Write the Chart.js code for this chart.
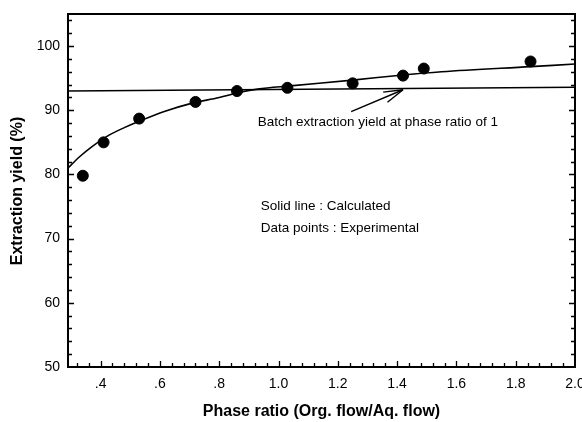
<!DOCTYPE html>
<html lang="en">
<head>
    <meta charset="UTF-8">
    <title>Extraction yield vs phase ratio</title>
    <script src="https://cdn.jsdelivr.net/npm/chart.js"></script>
    <style>
        body { margin: 0; background: #fff; }
    </style>
</head>
<body>
    <canvas id="yieldChart" width="582" height="422"></canvas>

    <script>
        // Experimental points
        const expX = [0.34, 0.41, 0.53, 0.72, 0.86, 1.03, 1.25, 1.42, 1.49, 1.85];
        const expY = [79.8, 85.0, 88.7, 91.3, 93.0, 93.5, 94.2, 95.4, 96.5, 97.6];

        // Calculated curve
        const calcX = [0.29, 0.33, 0.37, 0.42, 0.48, 0.53, 0.62, 0.70, 0.80, 0.87, 0.93, 1.04, 1.25, 1.42, 1.55, 1.85, 2.0];
        const calcY = [81.0, 82.8, 84.3, 85.9, 87.3, 88.3, 89.9, 91.0, 92.0, 92.8, 93.3, 93.8, 94.7, 95.5, 96.0, 96.8, 97.2];

        // Batch yield line and the arrow pointing at it
        const batchX = [0.29, 2.0];
        const batchY = [93.0, 93.6];
        const arrowX = [1.245, 1.42];
        const arrowY = [89.8, 93.2];

        // Tick labels
        const xTicks = [0.4, 0.6, 0.8, 1.0, 1.2, 1.4, 1.6, 1.8, 2.0];
        const xTickLabels = ['.4', '.6', '.8', '1.0', '1.2', '1.4', '1.6', '1.8', '2.0'];
        const yTicks = [50, 60, 70, 80, 90, 100];

        const toXY = (xs, ys) => xs.map((x, i) => ({ x: x, y: ys[i] }));
        const FONT = '"Liberation Sans", Arial, sans-serif';

        // frame, inward ticks, arrow head and notes
        const decor = {
            id: 'decor',
            afterDatasetsDraw(chart) {
                const { ctx, chartArea: a, scales: { x, y } } = chart;
                ctx.save();
                ctx.strokeStyle = '#000';
                ctx.lineWidth = 2;
                ctx.strokeRect(a.left, a.top, a.right - a.left, a.bottom - a.top);

                ctx.lineWidth = 1.3;
                ctx.beginPath();
                for (let v = 0.32; v < 2.0; v += 0.04) {
                    const px = Math.round(x.getPixelForValue(v)) + 0.5;
                    const major = Math.abs(v * 5 - Math.round(v * 5)) < 0.01;
                    ctx.moveTo(px, a.bottom);
                    ctx.lineTo(px, a.bottom - (major ? 6 : 4));
                }
                for (let v = 52; v < 105; v += 2) {
                    const py = Math.round(y.getPixelForValue(v)) + 0.5;
                    const len = v % 10 === 0 ? 6 : 4;
                    ctx.moveTo(a.left, py);
                    ctx.lineTo(a.left + len, py);
                    ctx.moveTo(a.right, py);
                    ctx.lineTo(a.right - len, py);
                }
                ctx.stroke();

                // arrow head
                const tx = x.getPixelForValue(arrowX[1]), ty = y.getPixelForValue(arrowY[1]);
                const fx = x.getPixelForValue(arrowX[0]), fy = y.getPixelForValue(arrowY[0]);
                const ang = Math.atan2(ty - fy, tx - fx);
                ctx.lineWidth = 1.4;
                ctx.beginPath();
                [0.28, -0.28].forEach(d => {
                    ctx.moveTo(tx, ty);
                    ctx.lineTo(tx - 20 * Math.cos(ang + d), ty - 20 * Math.sin(ang + d));
                });
                ctx.stroke();

                ctx.fillStyle = '#000';
                ctx.font = '13.5px ' + FONT;
                ctx.textBaseline = 'middle';
                ctx.fillText('Batch extraction yield at phase ratio of 1', x.getPixelForValue(0.93), y.getPixelForValue(88.1));
                ctx.fillText('Solid line : Calculated', x.getPixelForValue(0.94), y.getPixelForValue(75.0));
                ctx.fillText('Data points : Experimental', x.getPixelForValue(0.94), y.getPixelForValue(71.6));

                ctx.font = 'bold 16px ' + FONT;
                ctx.textAlign = 'center';
                ctx.translate(18, 191);
                ctx.rotate(-Math.PI / 2);
                ctx.fillText('Extraction yield (%)', 0, 0);
                ctx.restore();
            }
        };

        const ctx = document.getElementById('yieldChart').getContext('2d');
        const chart = new Chart(ctx, {
            type: 'scatter',
            data: {
                datasets: [
                    {
                        label: 'Calculated',
                        data: toXY(calcX, calcY),
                        showLine: true,
                        borderColor: '#000',
                        borderWidth: 1.6,
                        pointRadius: 0,
                        cubicInterpolationMode: 'monotone'
                    },
                    {
                        label: 'Batch',
                        data: toXY(batchX, batchY),
                        showLine: true,
                        borderColor: '#000',
                        borderWidth: 1.5,
                        pointRadius: 0
                    },
                    {
                        label: 'Arrow',
                        data: toXY(arrowX, arrowY),
                        showLine: true,
                        borderColor: '#000',
                        borderWidth: 1.4,
                        pointRadius: 0
                    },
                    {
                        label: 'Experimental',
                        data: toXY(expX, expY),
                        backgroundColor: '#000',
                        borderColor: '#000',
                        pointRadius: 5.5
                    }
                ]
            },
            options: {
                responsive: false,
                animation: false,
                layout: { padding: { top: 14, right: 7, left: 0, bottom: 0 } },
                plugins: {
                    legend: { display: false },
                    tooltip: { enabled: false }
                },
                scales: {
                    x: {
                        type: 'linear',
                        min: 0.29,
                        max: 2.0,
                        grid: { display: false, drawTicks: false },
                        border: { display: false },
                        afterBuildTicks: s => { s.ticks = xTicks.map(v => ({ value: v })); },
                        afterFit: s => { s.height = 55; s.paddingLeft = 0; s.paddingRight = 0; },
                        ticks: {
                            padding: 9,
                            maxRotation: 0,
                            color: '#000',
                            font: { family: FONT, size: 14 },
                            callback: v => xTickLabels[xTicks.findIndex(t => Math.abs(t - v) < 1e-6)]
                        },
                        title: {
                            display: true,
                            text: 'Phase ratio (Org. flow/Aq. flow)',
                            color: '#000',
                            padding: { top: 0, bottom: 1 },
                            font: { family: FONT, size: 16, weight: 'bold' }
                        }
                    },
                    y: {
                        type: 'linear',
                        min: 50,
                        max: 105,
                        grid: { display: false, drawTicks: false },
                        border: { display: false },
                        afterBuildTicks: s => { s.ticks = yTicks.map(v => ({ value: v })); },
                        afterFit: s => { s.width = 68; s.paddingTop = 0; s.paddingBottom = 0; },
                        ticks: {
                            padding: 8,
                            color: '#000',
                            font: { family: FONT, size: 14 }
                        }
                    }
                }
            },
            plugins: [decor]
        });
    </script>
</body>
</html>
